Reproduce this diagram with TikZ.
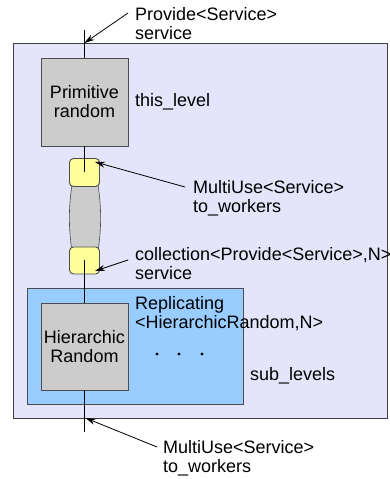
\documentclass[tikz,border=0pt]{standalone}
\usepackage{fontspec}
\setmainfont{Liberation Sans}
\usepackage{tkz-euclide}
\usetikzlibrary{arrows.meta}
\tikzset{>={Stealth[length=10pt,width=6pt]}}
\definecolor{lavender}{RGB}{228,228,250}
\definecolor{skyblue}{RGB}{153,204,255}
\definecolor{boxgray}{RGB}{204,204,204}
\definecolor{paleyellow}{RGB}{255,255,153}
\tikzset{
  wire/.style={line width=0.8pt, black},
  part/.style={draw=black!70, line width=0.9pt, fill=boxgray, inner sep=0pt, align=center},
  lbl/.style={anchor=base west, inner sep=0pt, align=left},
}

\begin{document}
\begin{tikzpicture}[x=1pt, y=1pt, font=\fontsize{18}{19}\selectfont]
    \useasboundingbox (0,0) rectangle (390,479);
    % points of the wires and arrows
    \tkzDefPoints{84.5/449/Top, 84.5/47/Bot, 128/466/Pa, 185/292/Ma, 128/219/Ca, 157/32/Ba,
                  84.5/436/Pt, 95/317/Mt, 95/208/Ct, 85.5/61/Bt}
    % frames
    \node (outer) [draw=black!75, line width=0.9pt, fill=lavender, minimum width=374pt,
                   minimum height=375pt] at (200,248.5) {};
    \node (repl) [part, fill=skyblue, minimum width=216pt, minimum height=116pt] at (135,133) {};
    \node (prim) [part, minimum width=87pt, minimum height=88pt] at (84.5,377) {Primitive\\random};
    \node (hier) [part, minimum width=87pt, minimum height=87pt] at (84.5,132.5) {Hierarchic\\Random};
    % the barrel between the two ports
    \filldraw[fill=boxgray, draw=black!70, line width=0.6pt] (72,294) .. controls (68.5,272) and (68.5,250) .. (72,228)
        -- (98,228) .. controls (101.5,250) and (101.5,272) .. (98,294) -- cycle;
    \node (up) [part, fill=paleyellow, rounded corners=4pt, minimum width=30pt,
                minimum height=28pt] at (84.5,306.5) {};
    \node (dn) [part, fill=paleyellow, rounded corners=4pt, minimum width=30pt,
                minimum height=27pt] at (84.5,218.5) {};
    % wires
    \draw[wire] (Top) -- (prim.north);
    \draw[wire] (prim.south) -- (up.center);
    \draw[wire] (dn.center) -- (hier.north);
    \draw[wire] (hier.south) -- (Bot);
    \tkzDrawSegments[wire, ->](Pa,Pt Ma,Mt Ca,Ct Ba,Bt)
    % dots
    \foreach \dx in {157,179,202}
        \fill (\dx,125) circle (1.6pt);
    % labels (base = baseline of the last line)
    \node (lp) at (135,439) [lbl] {Provide<Service>\\service};
    \node (lt) at (135,372) [lbl] {this\_level};
    \node (lm) at (193,266) [lbl] {MultiUse<Service>\\to\_workers};
    \node (lc) at (135,199) [lbl] {collection<Provide<Service>,N>\\service};
    \node (lr) at (135,150) [lbl] {Replicating\\<HierarchicRandom,N>};
    \node (ls) at (250,98) [lbl] {sub\_levels};
    \node (lb) at (163,6) [lbl] {MultiUse<Service>\\to\_workers};
\end{tikzpicture}
\end{document}
